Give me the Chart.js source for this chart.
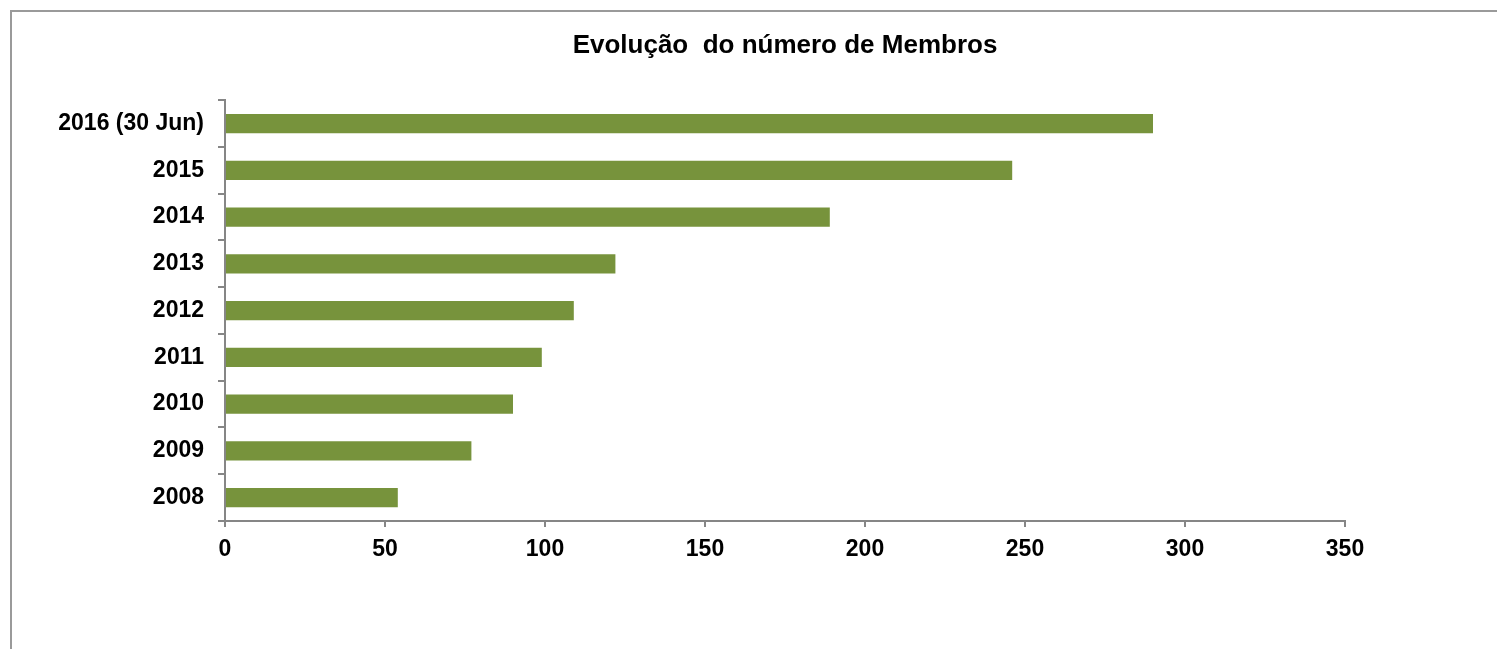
<html lang="pt">

<head>
    <meta charset="UTF-8">
    <title>Evolução do número de Membros</title>
    <script src="https://cdn.jsdelivr.net/npm/chart.js"></script>
    <style>
        html, body {
            margin: 0;
            padding: 0;
            background: #ffffff;
            overflow: hidden;
        }

        .moldura {
            position: absolute;
            left: 10px;
            top: 10px;
            width: 1600px;
            height: 800px;
            border: 2px solid #9a9a9a;
        }

        .grafico {
            position: absolute;
            left: 0;
            top: 0;
            width: 1497px;
            height: 649px;
        }
    </style>
</head>

<body>
    <div class="moldura"></div>
    <div class="grafico">
        <canvas id="myChart" width="1497" height="649"></canvas>
    </div>
</body>

</html>

<script>
    // dados
    const anos = ['2008', '2009', '2010', '2011', '2012', '2013', '2014', '2015', '2016 (30 Jun)'];
    const membros = [54, 77, 90, 99, 109, 122, 189, 246, 290];
    const ticksX = [0, 50, 100, 150, 200, 250, 300, 350];

    const cinza = '#868686';
    const fonte = "'Liberation Sans', Arial, sans-serif";

    const grafico = document.getElementById('myChart');

    const valorGrafico = new Chart(grafico, {
        type: 'bar',
        data: {
            labels: anos,
            datasets: [{
                data: membros,
                backgroundColor: '#77933C',
                borderWidth: 0,
                barPercentage: 0.41,
                categoryPercentage: 1
            }]
        },
        options: {
            indexAxis: 'y',
            responsive: false,
            animation: false,
            layout: {
                padding: { left: 0, right: 152, top: 0, bottom: 88 }
            },
            plugins: {
                legend: { display: false },
                tooltip: { enabled: false },
                title: {
                    display: true,
                    fullSize: false,
                    text: 'Evolução  do número de Membros',
                    color: '#000',
                    font: { family: fonte, size: 26, weight: 'bold', lineHeight: 1.2 },
                    padding: { top: 30, bottom: 39 }
                }
            },
            scales: {
                x: {
                    min: 0,
                    max: 350,
                    afterBuildTicks: (scale) => {
                        scale.ticks = ticksX.map(v => ({ value: v }));
                    },
                    afterFit: (scale) => { scale.height = 40; },
                    grid: {
                        drawOnChartArea: false,
                        drawTicks: true,
                        tickLength: 6,
                        color: cinza,
                        lineWidth: 2
                    },
                    border: { color: cinza, width: 2 },
                    ticks: {
                        color: '#000',
                        padding: 9,
                        font: { family: fonte, size: 23, weight: 'bold' }
                    }
                },
                y: {
                    reverse: true,
                    afterFit: (scale) => { scale.width = 225; },
                    grid: {
                        offset: true,
                        drawOnChartArea: false,
                        drawTicks: true,
                        tickLength: 7,
                        color: cinza,
                        lineWidth: 2
                    },
                    border: { color: cinza, width: 2 },
                    ticks: {
                        color: '#000',
                        padding: 14,
                        font: { family: fonte, size: 23, weight: 'bold' }
                    }
                }
            }
        }
    });
</script>
